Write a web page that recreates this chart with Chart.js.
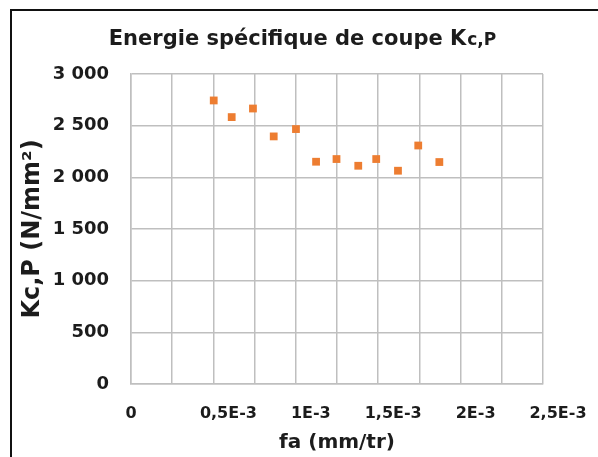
<!DOCTYPE html>
<html>
<head>
<meta charset="utf-8">
<script src="https://cdn.jsdelivr.net/npm/chart.js@4/dist/chart.umd.min.js"></script>
<style>
    html, body { margin: 0; padding: 0; background: #fff; }
    #wrap { position: relative; width: 598px; height: 457px; overflow: hidden; }
    #frame { position: absolute; left: 10px; top: 9px; width: 600px; height: 460px;
             border-top: 2.5px solid #111; border-left: 2.5px solid #111; }
    #chart { position: absolute; left: 0; top: 0; }
</style>
</head>
<body>
<div id="wrap">
    <div id="frame"></div>
    <canvas id="chart" width="598" height="457"></canvas>
</div>
<script>
// fa (mm/tr) et Kc,P (N/mm²)
const feedValues = [0.000502, 0.000611, 0.000740, 0.000866, 0.001001, 0.001123,
                    0.001247, 0.001379, 0.001488, 0.001620, 0.001743, 0.001871];
const kcValues = [2744, 2583, 2666, 2396, 2467, 2151, 2177, 2112, 2177, 2064, 2308, 2148];

const xTickLabels = ['0', '0,5E-3', '1E-3', '1,5E-3', '2E-3', '2,5E-3'];
const yTickLabels = ['0', '500', '1 000', '1 500', '2 000', '2 500', '3 000'];

const textColor = '#1c1c1c';
const gridColor = '#BFBFBF';
const fontFamily = '"DejaVu Sans", sans-serif';

// Titre avec indice "c,P" plus petit
const titlePlugin = {
    id: 'mixedTitle',
    afterDraw(chart) {
        const ctx = chart.ctx;
        ctx.save();
        ctx.fillStyle = textColor;
        ctx.textBaseline = 'alphabetic';
        ctx.textAlign = 'left';
        const main = 'Energie spécifique de coupe K';
        const sub = 'c,P';
        ctx.font = 'bold 21px ' + fontFamily;
        const w1 = ctx.measureText(main).width;
        ctx.font = 'bold 17px ' + fontFamily;
        const w2 = ctx.measureText(sub).width;
        const x0 = 302 - (w1 + w2) / 2;
        ctx.font = 'bold 21px ' + fontFamily;
        ctx.fillText(main, x0, 45);
        ctx.font = 'bold 17px ' + fontFamily;
        ctx.fillText(sub, x0 + w1 + 1, 45);
        ctx.restore();
    }
};

// Les étiquettes de l'axe x sont décalées vers la droite dans l'original
const shiftLabelsPlugin = {
    id: 'shiftLabels',
    beforeDraw(chart) {
        const items = chart.scales.x.getLabelItems();
        items.forEach(item => {
            if (item.label && item.label !== '0' && !item._shifted) {
                item.options.translation[0] += 15;
                item._shifted = true;
            }
        });
    }
};

const ctx = document.getElementById('chart').getContext('2d');
new Chart(ctx, {
    type: 'scatter',
    data: {
        datasets: [{
            data: feedValues.map((f, i) => ({ x: f, y: kcValues[i] })),
            backgroundColor: '#ED7D31',
            borderColor: '#ED7D31',
            borderWidth: 0,
            pointStyle: 'rect',
            pointRadius: 5.5,
            pointHoverRadius: 5.5
        }]
    },
    options: {
        responsive: false,
        animation: false,
        layout: { padding: { top: 74, left: 0, right: 55, bottom: 0 } },
        plugins: {
            legend: { display: false },
            tooltip: { enabled: false }
        },
        scales: {
            x: {
                type: 'linear',
                min: 0,
                max: 0.0025,
                afterFit(scale) { scale.height = 73; },
                grid: { color: gridColor, lineWidth: 1.5, drawTicks: false },
                border: { color: gridColor, width: 1.5 },
                ticks: {
                    stepSize: 0.00025,
                    autoSkip: false,
                    maxRotation: 0,
                    padding: 20,
                    color: textColor,
                    font: { family: fontFamily, size: 16, weight: 'bold' },
                    callback: (v, i) => (i % 2 === 0 ? xTickLabels[i / 2] : '')
                },
                title: {
                    display: true,
                    text: 'fa (mm/tr)',
                    color: textColor,
                    padding: { top: 0, bottom: 2 },
                    font: { family: fontFamily, size: 20, weight: 'bold' }
                }
            },
            y: {
                min: 0,
                max: 3000,
                afterFit(scale) { scale.width = 131; },
                grid: { color: gridColor, lineWidth: 1.5, drawTicks: false },
                border: { color: gridColor, width: 1.5 },
                ticks: {
                    stepSize: 500,
                    padding: 22,
                    color: textColor,
                    font: { family: fontFamily, size: 18, weight: 'bold' },
                    callback: (v, i) => yTickLabels[i]
                },
                title: {
                    display: true,
                    text: 'Kc,P (N/mm²)',
                    color: textColor,
                    padding: { top: 18, bottom: 0 },
                    font: { family: fontFamily, size: 24, weight: 'bold' }
                }
            }
        }
    },
    plugins: [titlePlugin, shiftLabelsPlugin]
});
</script>
</body>
</html>
